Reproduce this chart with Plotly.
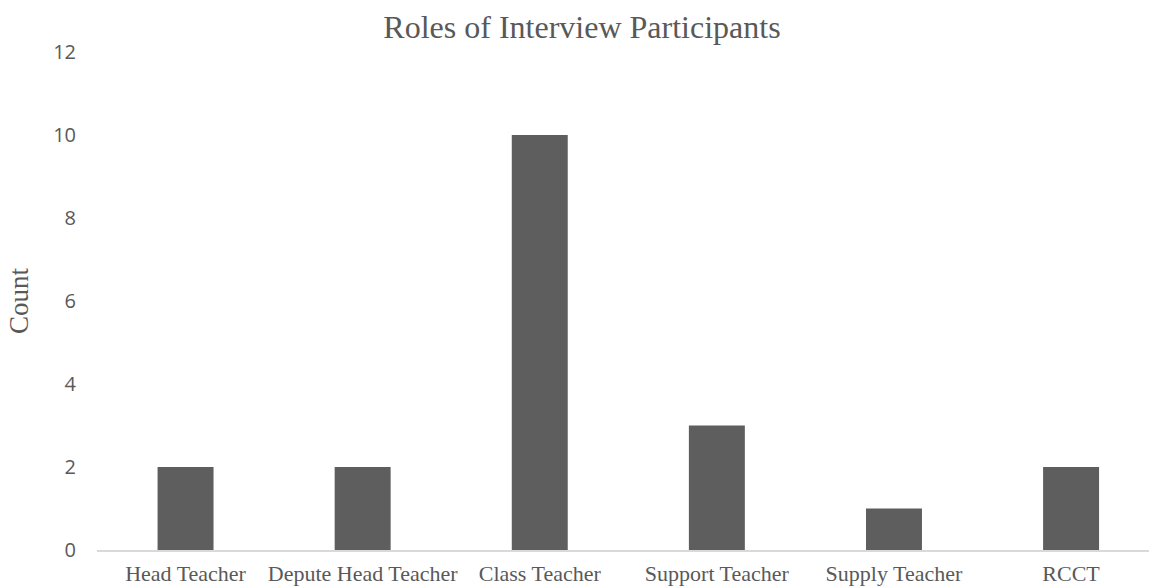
import plotly.graph_objects as go

roles = ['Head Teacher', 'Depute Head Teacher', 'Class Teacher',
         'Support Teacher', 'Supply Teacher', 'RCCT']
counts = [2, 2, 10, 3, 1, 2]
y_ticks = [0, 2, 4, 6, 8, 10, 12]

fig = go.Figure(go.Bar(
    x=roles,
    y=counts,
    marker=dict(color='#5E5E5E', line=dict(width=0)),
))

fig.update_layout(
    width=1149, height=587,
    paper_bgcolor='white', plot_bgcolor='white',
    margin=dict(l=97, r=0, t=52, b=37),
    bargap=0.684,
    showlegend=False,
    title=dict(text='Roles of Interview Participants', x=0.5065, xanchor='center',
               y=0.954, yanchor='middle',
               font=dict(family='Liberation Serif', size=32, color='#595959')),
)
# the plot area runs past the right edge in the original, so the range is cut short
fig.update_xaxes(
    range=[-0.5, 5.44],
    showline=True, linecolor='#D9D9D9', linewidth=1.5,
    showgrid=False, ticks='',
    tickfont=dict(family='Liberation Serif', size=22, color='#595959'),
    ticklabelstandoff=3,
)
fig.update_yaxes(
    range=[0, 12], tickvals=y_ticks,
    showline=False, showgrid=False, zeroline=False, ticks='',
    tickfont=dict(family='Open Sans', size=20, color='#595959'),
    ticklabelstandoff=20,
    title=dict(text='Count', font=dict(family='Liberation Serif', size=27, color='#595959'),
               standoff=16),
)

# drop the browser's default body margin so the figure sits at the page corner
fig.write_html("out.html", config={'displayModeBar': False},
               post_script="document.body.style.margin='0px';")
